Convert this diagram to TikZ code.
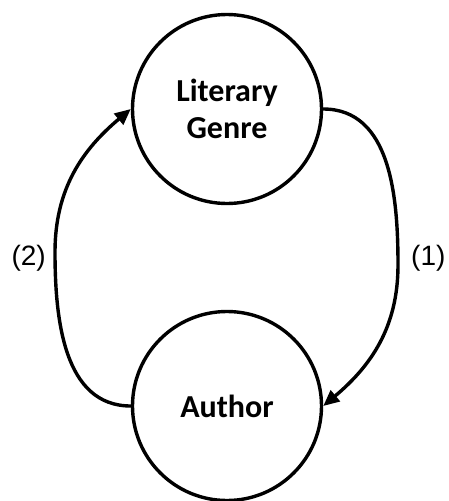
\documentclass[tikz,border=0pt]{standalone}
\usepackage{fontspec}
\setmainfont{Liberation Sans}
\newfontfamily\nodefont{Carlito}
\usetikzlibrary{positioning, arrows.meta}
\tikzset{
    concept/.style = {draw, circle, line width = 3.4pt, minimum size = 189pt, inner sep = 0pt,
        align = center, font = \nodefont\bfseries\fontsize{32}{37}\selectfont},
}
\tikzset{
    flow/.style = {draw, line width = 3.4pt, -{Triangle[length = 16pt, width = 14pt]}},
    step label/.style = {inner sep = 0pt, font = \fontsize{28}{32}\selectfont},
}

\begin{document}
\begin{tikzpicture}[x = 1pt, y = -1pt]
            \useasboundingbox (0, 0) rectangle (449, 501);

            \node[concept] (genre) at (227, 109) {Literary\\Genre};
            \node[concept] (author) at (227, 406) {Author};

            \coordinate (r) at (398, 265);
            \coordinate (l) at (55, 252);

            \node[step label, right = 13pt of r, yshift = 7pt] (one) {(1)};
            \node[step label, left = 9pt of l, yshift = -6pt] (two) {(2)};

            \draw[flow] (genre.east) to[out = 0, in = 90] (r) to[out = -90, in = 40] (author.east);
            \draw[flow] (author.west) to[out = 180, in = -90] (l) to[out = 90, in = 220] (genre.west);
        \end{tikzpicture}
\end{document}
